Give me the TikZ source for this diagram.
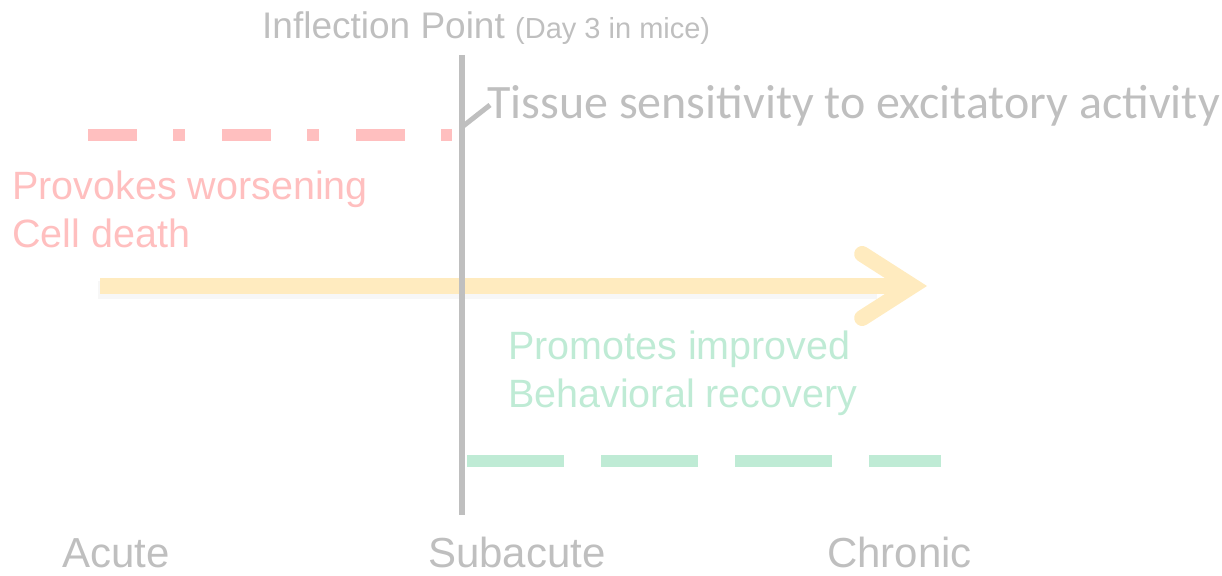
\documentclass[tikz,border=0pt]{standalone}
\usepackage{fontspec}
\setmainfont{Liberation Sans}
\newfontfamily\bodyfont{Carlito}
\usetikzlibrary{arrows.meta}

\definecolor{dividerGrey}{HTML}{BFBFBF}
\definecolor{harmRed}{HTML}{FFBFBF}
\definecolor{timeYellow}{HTML}{FFEBBF}
\definecolor{healGreen}{HTML}{BFEBD5}

\begin{document}
\begin{tikzpicture}[
    x=1pt, y=-1pt,
    txt/.style={inner sep=0pt, anchor=base west},
    divider/.style={draw=dividerGrey, line width=6pt},
    harmline/.style={draw=harmRed, line width=12pt, dash pattern=on 49pt off 36pt on 12pt off 37pt},
    healline/.style={draw=healGreen, line width=12pt, dash pattern=on 97pt off 37pt},
    timeline/.style={draw=timeYellow, line width=16pt, -{Straight Barb[length=50pt, width=64pt, line cap=round, line join=miter]}}
]
\useasboundingbox (0,0) rectangle (1222,575);

% time axis
\coordinate (timeStart) at (100,286);
\coordinate (timeEnd) at (927,286);
\draw[black, opacity=0.03, line width=18pt] ([shift={(-2,4)}]timeStart) -- ([shift={(-50,4)}]timeEnd);
\draw[timeline] (timeStart) -- (timeEnd);

% inflection point
\coordinate (inflTop) at (462,55);
\coordinate (inflBottom) at (462,515);
\draw[divider] (inflTop) -- (inflBottom);
\node[txt, text=dividerGrey, font=\fontsize{37}{44}\selectfont] (inflection) at (262,39)
    {Inflection Point {\fontsize{29}{34}\selectfont(Day 3 in mice)}};

% tissue sensitivity
\node[txt, text=dividerGrey, font=\bodyfont\fontsize{48}{58}\selectfont] (tissue) at (487,118)
    {Tissue sensitivity to excitatory activity};
\coordinate (leadFoot) at (462,127);
\coordinate (leadTop) at (490,105);
\draw[draw=dividerGrey, line width=5pt] (leadFoot) -- (leadTop);

% harmful phase
\coordinate (harmStart) at (88,135);
\coordinate (harmEnd) at (452,135);
\draw[harmline] (harmStart) -- (harmEnd);
\node[txt, text=harmRed, align=left, font=\fontsize{39.5}{48}\selectfont] (provokes) at (12,247)
    {Provokes worsening\\Cell death};

% beneficial phase
\coordinate (healStart) at (467,461);
\coordinate (healEnd) at (941,461);
\draw[healline] (healStart) -- (healEnd);
\node[txt, text=healGreen, align=left, font=\fontsize{39.5}{48}\selectfont] (promotes) at (508,407)
    {Promotes improved\\Behavioral recovery};

% phases
\node[txt, text=dividerGrey, font=\fontsize{42}{50}\selectfont] (acute) at (62,567) {Acute};
\node[txt, text=dividerGrey, font=\fontsize{42}{50}\selectfont] (subacute) at (428,567) {Subacute};
\node[txt, text=dividerGrey, font=\fontsize{42}{50}\selectfont] (chronic) at (827,567) {Chronic};

\end{tikzpicture}
\end{document}
